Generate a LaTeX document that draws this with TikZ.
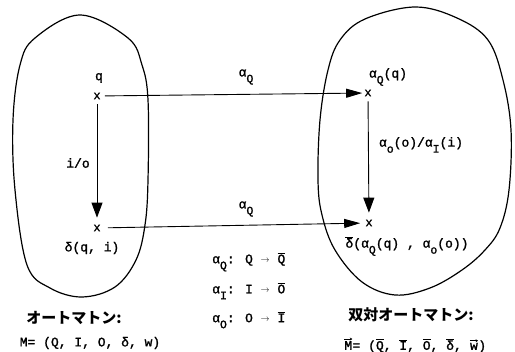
\documentclass[tikz,border=0pt]{standalone}
\usepackage{fontspec}
\usepackage{graphicx}
\usetikzlibrary{arrows.meta}
\newfontfamily\tw{Liberation Mono}[FakeBold=1.5]
\newfontfamily\jp{Noto Sans CJK JP}
\newcommand\sbs[1]{\raisebox{-6pt}{\fontsize{11.5}{11.5}\selectfont #1}}
\newcommand\ovl[1]{$\overline{\hbox{#1}}$}
\newcommand\arw[1]{\tikz[baseline=(vt.base)]{\node[inner sep=0pt] (vt) {#1};
  \draw[-{Stealth[length=2.5pt,width=3pt]}, line width=0.5pt]
    ([yshift=2pt]vt.north west) -- ([yshift=2pt]vt.north east);}}
\newcommand\tto{\raisebox{0.5pt}{\scalebox{0.75}{$\rightarrow$}}}
\begin{document}
\begin{tikzpicture}[x=1pt,y=-1pt,
  tx/.style={font=\tw\fontsize{13}{13}\selectfont, inner sep=0pt},
  jtx/.style={font=\jp\bfseries\fontsize{15}{15}\selectfont, inner sep=0pt},
  cross/.style={font=\tw\fontsize{12}{12}\selectfont, inner sep=0pt},
  blob/.style={draw, line width=1.2pt},
  harr/.style={-{Triangle[length=16pt,width=9pt]}, line width=0.9pt},
  varr/.style={-{Triangle[length=15pt,width=11pt]}, line width=0.9pt}]
\useasboundingbox (0,0) rectangle (515,352);
% blobs
\draw[blob] plot[smooth cycle, tension=0.6] coordinates {
  (15,190) (13,120) (20,65) (35,38) (80,15) (128,38) (142,65) (148,100)
  (148,180) (145,225) (136,260) (115,287) (82,297) (50,288) (27,265)};
\draw[blob] plot[smooth cycle, tension=0.6] coordinates {
  (318,180) (320,120) (328,70) (340,40) (365,19) (415,7) (457,18) (488,40)
  (503,80) (511,130) (509,190) (500,228) (485,250) (462,270) (430,288)
  (395,295) (362,282) (335,250) (322,215)};
% crosses
\node[cross] (c1) at (97,96) {x};
\node[cross] (c3) at (97,228) {x};
\node[cross] (c2) at (368,93) {x};
\node[cross] (c4) at (369,223) {x};
% arrows
\draw[harr, shorten <=4pt, shorten >=2pt] (c1) -- (c2);
\draw[harr, shorten <=7pt, shorten >=5pt] (c3) -- (c4);
\draw[varr, shorten <=5pt, shorten >=7pt] (c1) -- (c3);
\draw[varr, shorten <=5pt, shorten >=7pt] (c2) -- (c4);
% labels
\node[tx] (lq) at (99,78) {q};
\node[tx] (lio) at (78,163) {i/o};
\node[tx] (ldel) at (92,248) {δ(q, i)};
\node[tx] (la1) at (246,77) {α\sbs{Q}};
\node[tx] (la2) at (246,209) {α\sbs{Q}};
\node[tx] (laq) at (388,77) {α\sbs{Q}(q)};
\node[tx] (lao) at (421,145) {α\sbs{o}(o)/α\sbs{I}(i)};
\node[tx] (ldb) at (407,246) {\ovl{δ}(α\sbs{Q}(q) , α\sbs{o}(o))};
% mappings
\node[tx, anchor=west] (r1) at (212,262) {α\sbs{Q}: Q \tto{} \ovl{Q}};
\node[tx, anchor=west] (r2) at (212,291) {α\sbs{I}: I \tto{} \ovl{O}};
\node[tx, anchor=west] (r3) at (212,320) {α\sbs{O}: O \tto{} \ovl{I}};
% titles
\node[jtx] (jl) at (74,318) {オートマトン:};
\node[jtx] (jr) at (411,315) {双対オートマトン:};
\node[tx] (ml) at (90,343) {M= (Q, I, O, δ, w)};
\node[tx] (mr) at (415,345) {\arw{M}= (\ovl{Q}, \ovl{I}, \ovl{O}, \ovl{δ}, \arw{w})};
\end{tikzpicture}
\end{document}
